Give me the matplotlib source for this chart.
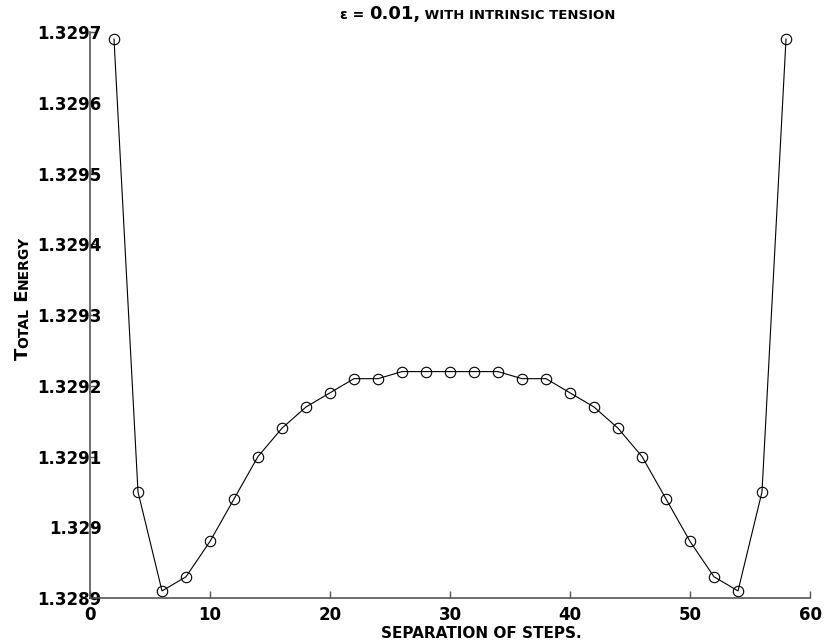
import matplotlib
matplotlib.use("Agg")
import matplotlib.pyplot as plt
from matplotlib.ticker import FixedLocator, FixedFormatter

# ---- data ----
separation = [2, 4, 6, 8, 10, 12, 14, 16, 18, 20, 22, 24, 26, 28, 30,
              32, 34, 36, 38, 40, 42, 44, 46, 48, 50, 52, 54, 56, 58]
energy = [1.32969, 1.32905, 1.32891, 1.32893, 1.32898, 1.32904, 1.32910,
          1.32914, 1.32917, 1.32919, 1.32921, 1.32921, 1.32922, 1.32922,
          1.32922, 1.32922, 1.32922, 1.32921, 1.32921, 1.32919, 1.32917,
          1.32914, 1.32910, 1.32904, 1.32898, 1.32893, 1.32891, 1.32905,
          1.32969]
xticks = [0, 10, 20, 30, 40, 50, 60]
yticks = [1.3289, 1.3290, 1.3291, 1.3292, 1.3293, 1.3294, 1.3295, 1.3296, 1.3297]
ytick_labels = ["1.3289", "1.329", "1.3291", "1.3292", "1.3293", "1.3294",
                "1.3295", "1.3296", "1.3297"]

W, H = 825, 643
fig = plt.figure(figsize=(W / 100, H / 100), dpi=100)
ax = fig.add_axes([90 / W, 1 - 598 / H, 720 / W, 566 / H])

ax.plot(separation, energy, color="black", linewidth=0.8,
        marker="o", markersize=7.5, markerfacecolor="none",
        markeredgecolor="black", markeredgewidth=0.8)

ax.set_xlim(0, 60)
ax.set_ylim(1.3289, 1.3297)
ax.xaxis.set_major_locator(FixedLocator(xticks))
ax.yaxis.set_major_locator(FixedLocator(yticks))
ax.yaxis.set_major_formatter(FixedFormatter(ytick_labels))
ax.set_xticklabels([str(v) for v in xticks])

for side in ("top", "right"):
    ax.spines[side].set_visible(False)
for side in ("left", "bottom"):
    ax.spines[side].set_color("#555555")
    ax.spines[side].set_linewidth(1.2)

ax.tick_params(axis="x", direction="in", length=5, width=1, color="#555555",
               labelsize=12, pad=5.5)
ax.tick_params(axis="y", direction="in", length=5, width=1, color="#555555",
               labelsize=12, pad=-8.5)
for lab in ax.get_xticklabels() + ax.get_yticklabels():
    lab.set_fontweight("bold")

renderer = fig.canvas.get_renderer()


def chain(pieces, x0, y0, rotation=0):
    x, y = x0, y0
    for s, size in pieces:
        t = fig.text(x / W, y / H, s, fontsize=size, fontweight="bold",
                     rotation=rotation, rotation_mode="anchor",
                     ha="left", va="baseline")
        bb = t.get_window_extent(renderer)
        if rotation == 0:
            x += bb.width
        else:
            y += bb.height


# title
chain([("ε = ", 10), ("0.01,", 13), (" WITH INTRINSIC TENSION", 9.5)],
      340, H - 19)

# y label (small caps look)
chain([("T", 13), ("OTAL", 10), (" E", 13), ("NERGY", 10)],
      28, H - 360, rotation=90)

# x label
fig.text(481 / W, 1 - 634 / H, "SEPARATION OF STEPS.", fontsize=11,
         fontweight="bold", ha="center", va="center")

fig.savefig("out.png", dpi=100)
